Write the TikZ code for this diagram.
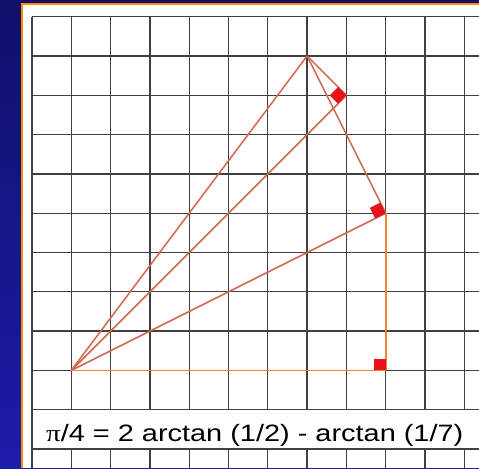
\documentclass[tikz,border=0pt]{standalone}
\usepackage{fontspec}
\setmainfont{Liberation Sans}
\newfontfamily\pischrift{Liberation Serif}

\definecolor{blauoben}{HTML}{10106A}
\definecolor{blauunten}{HTML}{1C1CAA}
\definecolor{rahmenorange}{HTML}{FF8A00}
\definecolor{strahlrot}{HTML}{D2664C}
\definecolor{kantenorange}{HTML}{F0843C}
\definecolor{winkelrot}{HTML}{E8121A}

\begin{document}
\begin{tikzpicture}[x=39.3pt,y=39.3pt,
    gitter/.style={line width=1.3pt, draw=black!75},
    strahl/.style={line width=1.5pt, draw=strahlrot},
    kante/.style={line width=1.8pt, draw=kantenorange},
    winkel/.style={fill=winkelrot}]
            % Hintergrund:
            \useasboundingbox (-0.8142,-0.4835) rectangle (11.374,11.425);
            \shade[top color=blauoben, bottom color=blauunten]
                (-0.8142,-0.4835) rectangle (11.374,11.425);
            \fill[rahmenorange] (-0.28,-0.4835) rectangle (11.374,11.349);
            \fill[white] (-0.229,-0.4835) rectangle (11.374,11.298);
            % Gitter:
            \draw[gitter] (0,-0.4835) grid[step=1] (11.374,11);
            \fill[white] (0.03,0) rectangle (11.374,1);
            \draw[gitter] (0,0) -- (11.374,0);
            \draw[gitter] (0,1) -- (11.374,1);
            \node[anchor=base west, inner sep=0pt] (formel) at (0.356,0.2)
                {\scalebox{1.22}[1]{\fontsize{23.7}{28}\selectfont
                {\pischrift π}/4 = 2 arctan (1/2) - arctan (1/7)}};
            % Punkte:
            \coordinate (O) at (1,2);
            \coordinate (A) at (7,10);
            \coordinate (D) at (8,9);
            \coordinate (B) at (9,6);
            \coordinate (C) at (9,2);
            % Strahlen:
            \draw[strahl] (O) -- (A);
            \draw[strahl] (O) -- (D);
            \draw[strahl] (O) -- (B);
            \draw[strahl] (A) -- (D);
            \draw[strahl] (A) -- (B);
            \draw[kante] (O) -- (C);
            \draw[kante] (B) -- (C);
            % rechte Winkel:
            \fill[winkel] (D) -- ++(225:0.3) -- ++(135:0.3) -- ++(45:0.3) -- cycle;
            \fill[winkel] (B) -- ++(206.565:0.3) -- ++(116.565:0.3) -- ++(26.565:0.3) -- cycle;
            \fill[winkel] (C) -- ++(180:0.3) -- ++(90:0.3) -- ++(0:0.3) -- cycle;
\end{tikzpicture}
\end{document}
